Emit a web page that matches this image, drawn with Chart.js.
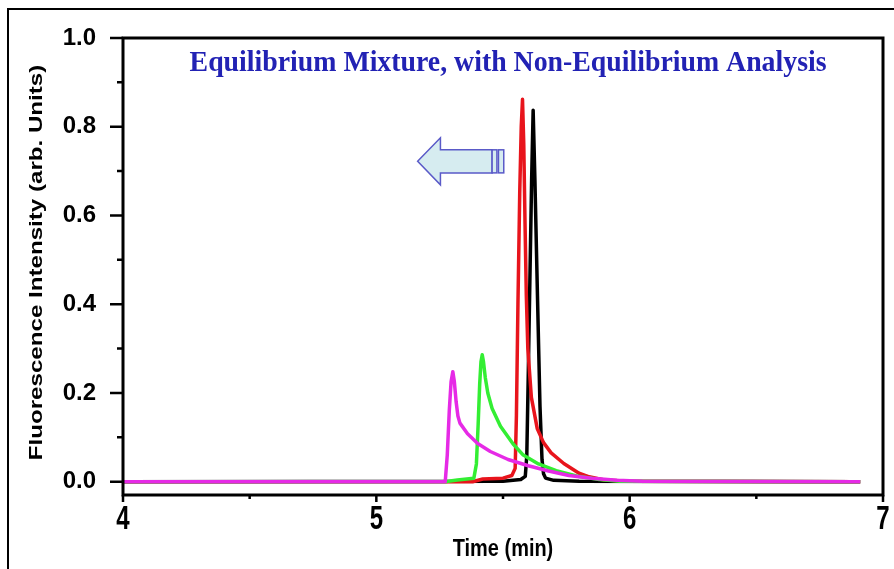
<!DOCTYPE html>
<html>
<head>
<meta charset="utf-8">
<script src="https://cdn.jsdelivr.net/npm/chart.js@4.4.1/dist/chart.umd.min.js"></script>
<style>
  html, body { margin: 0; padding: 0; background: #fff; }
</style>
</head>
<body>
<canvas id="myChart" width="894" height="569"></canvas>
<script>
// Chromatogram traces, time in min and fluorescence in arb. units

const blackTime = [4.0, 5.50, 5.57, 5.588, 5.594, 5.600, 5.606, 5.613, 5.619, 5.626, 5.636, 5.646, 5.654, 5.660, 5.668, 5.70, 5.80, 6.91];
const blackInt  = [0, 0.001, 0.005, 0.012, 0.06, 0.25, 0.45, 0.68, 0.837, 0.68, 0.42, 0.17, 0.05, 0.018, 0.008, 0.003, 0.001, 0];

const redTime = [4.0, 5.38, 5.42, 5.50, 5.535, 5.548, 5.553, 5.559, 5.566, 5.572, 5.577, 5.582, 5.587, 5.592, 5.598, 5.612, 5.635, 5.66, 5.69, 5.74, 5.80, 5.84, 5.90, 6.0, 6.91];
const redInt  = [0, 0, 0.006, 0.008, 0.014, 0.03, 0.15, 0.40, 0.65, 0.80, 0.862, 0.76, 0.58, 0.42, 0.30, 0.19, 0.12, 0.088, 0.065, 0.041, 0.019, 0.011, 0.004, 0.001, 0];

const greenTime = [4.0, 5.27, 5.32, 5.385, 5.395, 5.402, 5.408, 5.413, 5.418, 5.423, 5.43, 5.44, 5.457, 5.49, 5.54, 5.58, 5.64, 5.71, 5.79, 5.88, 5.96, 6.91];
const greenInt  = [0, 0, 0.004, 0.008, 0.04, 0.13, 0.22, 0.27, 0.286, 0.27, 0.235, 0.20, 0.165, 0.125, 0.085, 0.06, 0.04, 0.025, 0.013, 0.005, 0.001, 0];

const magentaTime = [4.0, 5.272, 5.280, 5.288, 5.295, 5.302, 5.308, 5.315, 5.322, 5.33, 5.36, 5.40, 5.45, 5.52, 5.60, 5.68, 5.76, 5.85, 5.95, 6.05, 6.91];
const magentaInt  = [0, 0, 0.06, 0.16, 0.225, 0.248, 0.225, 0.18, 0.148, 0.132, 0.108, 0.086, 0.068, 0.05, 0.036, 0.024, 0.014, 0.008, 0.003, 0.001, 0];

// axis ticks
const xMajor = [4, 5, 6, 7];
const xMinor = [4.5, 5.5, 6.5];
const yMajor = [0, 0.2, 0.4, 0.6, 0.8, 1.0];
const yMinor = [0.1, 0.3, 0.5, 0.7, 0.9];

const titleText = 'Equilibrium Mixture, with Non-Equilibrium Analysis';
const yTitleText = 'Fluorescence Intensity (arb. Units)';
const xTitleText = 'Time (min)';

// arrow outline, in (time, intensity)
const arrowTime = [5.163, 5.253, 5.253, 5.457, 5.457, 5.253, 5.253];
const arrowInt  = [0.722, 0.775, 0.748, 0.748, 0.696, 0.696, 0.669];

function toPoints(t, v) {
  return t.map(function(x, i) { return { x: x, y: v[i] }; });
}

// lower order is drawn on top: magenta sits over the rest
function trace(label, color, t, v, order) {
  return {
    label: label,
    data: toPoints(t, v),
    borderColor: color,
    borderWidth: 3.5,
    pointRadius: 0,
    tension: 0,
    borderJoinStyle: 'round',
    fill: false,
    order: order
  };
}

// text drawn with a stretch, like the squeezed fonts of the original
function stretchedText(ctx, text, x, y, sx, sy) {
  ctx.save();
  ctx.translate(x, y);
  ctx.scale(sx, sy);
  ctx.fillText(text, 0, 0);
  ctx.restore();
}

// frame, tick marks, outer border, titles, arrow
const decorations = {
  id: 'decorations',
  beforeDraw: function(chart) {
    const ctx = chart.ctx;
    ctx.save();
    ctx.fillStyle = '#fff';
    ctx.fillRect(0, 0, chart.width, chart.height);
    ctx.strokeStyle = '#000';
    ctx.lineWidth = 2;
    ctx.beginPath();
    ctx.moveTo(8, chart.height);
    ctx.lineTo(8, 9);
    ctx.lineTo(chart.width, 9);
    ctx.stroke();
    ctx.restore();
  },
  afterDraw: function(chart) {
    const ctx = chart.ctx;
    const a = chart.chartArea;
    const xs = chart.scales.x;
    const ys = chart.scales.y;
    ctx.save();

    // arrow
    ctx.beginPath();
    arrowTime.forEach(function(t, i) {
      const px = xs.getPixelForValue(t), py = ys.getPixelForValue(arrowInt[i]);
      if (i === 0) ctx.moveTo(px, py); else ctx.lineTo(px, py);
    });
    ctx.closePath();
    ctx.fillStyle = '#d6ecf0';
    ctx.fill();
    ctx.strokeStyle = '#5a5ac8';
    ctx.lineWidth = 1.5;
    ctx.stroke();
    const sTop = ys.getPixelForValue(0.748), sBot = ys.getPixelForValue(0.696);
    [[5.457, 5.476], [5.482, 5.503]].forEach(function(b) {
      const x0 = xs.getPixelForValue(b[0]), x1 = xs.getPixelForValue(b[1]);
      ctx.fillStyle = '#d6ecf0';
      ctx.fillRect(x0, sTop, x1 - x0, sBot - sTop);
      ctx.strokeRect(x0, sTop, x1 - x0, sBot - sTop);
    });

    // frame
    ctx.strokeStyle = '#000';
    ctx.lineWidth = 3;
    ctx.strokeRect(a.left, a.top, a.right - a.left, a.bottom - a.top);

    // tick marks
    ctx.lineWidth = 2.5;
    ctx.beginPath();
    yMajor.forEach(function(v) {
      const py = ys.getPixelForValue(v);
      ctx.moveTo(a.left - 13, py); ctx.lineTo(a.left, py);
    });
    yMinor.forEach(function(v) {
      const py = ys.getPixelForValue(v);
      ctx.moveTo(a.left - 6, py); ctx.lineTo(a.left, py);
    });
    xMajor.forEach(function(v) {
      const px = xs.getPixelForValue(v);
      ctx.moveTo(px, a.bottom); ctx.lineTo(px, a.bottom + 7);
    });
    xMinor.forEach(function(v) {
      const px = xs.getPixelForValue(v);
      ctx.moveTo(px, a.bottom); ctx.lineTo(px, a.bottom + 4);
    });
    ctx.stroke();

    // x tick labels, tall and narrow
    ctx.fillStyle = '#000';
    ctx.textAlign = 'center';
    ctx.textBaseline = 'middle';
    ctx.font = 'bold 24px "Liberation Sans", Arial, sans-serif';
    xMajor.forEach(function(v) {
      stretchedText(ctx, String(v), xs.getPixelForValue(v), a.bottom + 25, 1, 1.4);
    });
    ctx.font = 'bold 19px "Liberation Sans", Arial, sans-serif';
    stretchedText(ctx, xTitleText, (a.left + a.right) / 2, 549, 1.05, 1.25);

    // title inside the plot
    ctx.fillStyle = '#2222b4';
    ctx.font = 'bold 27px "Liberation Serif", "Times New Roman", serif';
    stretchedText(ctx, titleText, xs.getPixelForValue(5.52), ys.getPixelForValue(0.942), 1.03, 1.1);

    // y axis title, stretched along its length
    ctx.fillStyle = '#000';
    ctx.font = 'bold 19px "Liberation Sans", Arial, sans-serif';
    ctx.translate(37, (a.top + a.bottom) / 2 - 4);
    ctx.rotate(-Math.PI / 2);
    ctx.scale(1.27, 1);
    ctx.fillText(yTitleText, 0, 0);
    ctx.restore();
  }
};

const ctx = document.getElementById('myChart').getContext('2d');

let myChart = new Chart(ctx, {
  type: 'line',
  data: {
    datasets: [
      trace('Black', '#000000', blackTime, blackInt, 3),
      trace('Red', '#e8141c', redTime, redInt, 2),
      trace('Green', '#33ee33', greenTime, greenInt, 1),
      trace('Magenta', '#e62ae6', magentaTime, magentaInt, 0)
    ]
  },
  options: {
    responsive: false,
    animation: false,
    layout: { padding: { left: 0, top: 38, right: 11, bottom: 0 } },
    plugins: {
      legend: { display: false },
      tooltip: { enabled: false }
    },
    scales: {
      x: {
        type: 'linear',
        min: 4,
        max: 7,
        afterBuildTicks: function(scale) {
          scale.ticks = xMajor.map(function(v) { return { value: v }; });
        },
        afterFit: function(scale) { scale.height = 74; },
        grid: { display: false, drawTicks: false },
        border: { display: false },
        ticks: { display: false }
      },
      y: {
        min: -0.03,
        max: 1.0,
        afterBuildTicks: function(scale) {
          scale.ticks = yMajor.map(function(v) { return { value: v }; });
        },
        afterFit: function(scale) {
          scale.width = 123;
          scale.paddingTop = 0;
          scale.paddingBottom = 0;
        },
        grid: { display: false, drawTicks: false },
        border: { display: false },
        ticks: {
          padding: 27,
          color: '#000',
          font: { family: '"Liberation Sans", Arial, sans-serif', size: 24, weight: 'bold' },
          callback: function(v) { return v.toFixed(1); }
        }
      }
    }
  },
  plugins: [decorations]
});
</script>
</body>
</html>
